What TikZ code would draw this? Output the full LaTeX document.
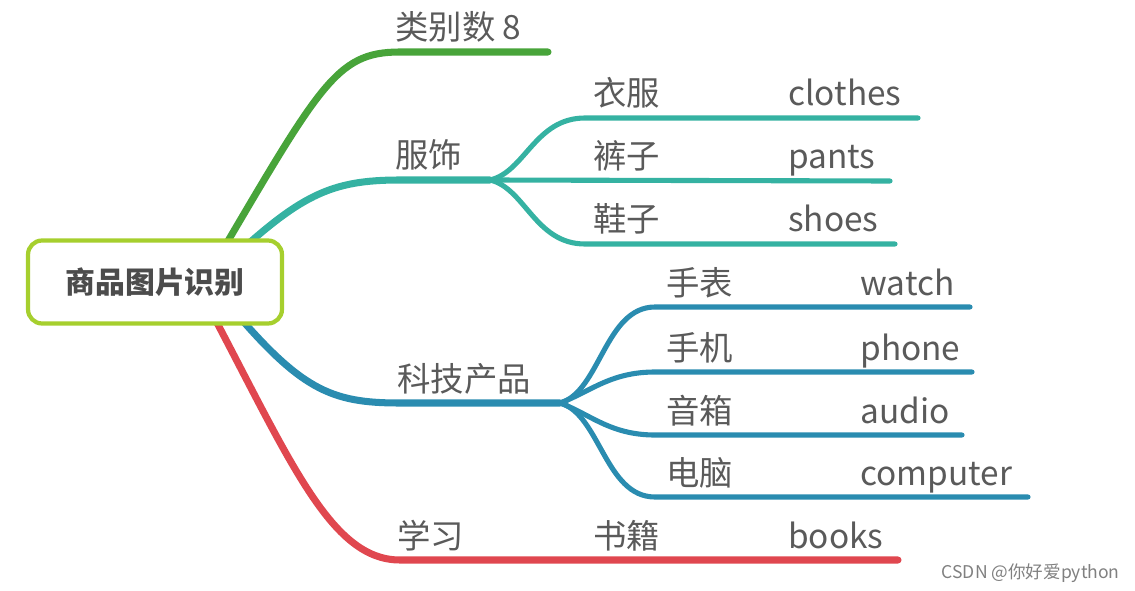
\documentclass[tikz,border=0pt]{standalone}
\usepackage{fontspec}
\setmainfont{Noto Sans CJK SC}
\usepackage{tikz}
\usetikzlibrary{positioning}

\definecolor{brgreen}{HTML}{48A43A}
\definecolor{brteal}{HTML}{35B2A2}
\definecolor{brblue}{HTML}{2A8CB0}
\definecolor{brred}{HTML}{E0474F}
\definecolor{rootrim}{HTML}{A6CF2E}
\definecolor{labgray}{HTML}{5A5A5A}

\begin{document}
\begin{tikzpicture}[
  x=0.02cm, y=-0.02cm,
  every node/.style={font=\fontsize{19}{22}\selectfont, text=labgray, inner sep=0pt},
  lab/.style={anchor=base west},
  rootbox/.style={draw=rootrim, line width=2.4pt, rounded corners=8pt, fill=white,
                  minimum width=5.08cm, minimum height=1.66cm,
                  font=\fontsize{17}{20}\selectfont\bfseries, text=black!70},
  mainbr/.style={line width=4pt, line cap=round},
  subbr/.style={line width=2.9pt, line cap=round}
]
\useasboundingbox (0,0) rectangle (1135,591);

%% --- Fork points and line ends -------------------------------
\coordinate (fs)   at (490,180);
\coordinate (kj)   at (560,403);
\coordinate (e-lb) at (548,52);
\coordinate (e-yf) at (918,118);
\coordinate (e-kz) at (890,181);
\coordinate (e-xz) at (895,244);
\coordinate (e-sb) at (970,307);
\coordinate (e-sj) at (972,372);
\coordinate (e-yx) at (962,435);
\coordinate (e-dn) at (1028,497);
\coordinate (e-xx) at (898,560);

%% --- Main branches -------------------------------------------
\draw[mainbr, brgreen] (205,280) .. controls (320,85) and (335,52) .. (400,52) -- (e-lb);
\draw[mainbr, brteal]  (225,265) .. controls (300,195) and (330,180) .. (400,180) -- (fs);
\draw[mainbr, brblue]  (225,300) .. controls (300,390) and (330,403) .. (400,403) -- (kj);
\draw[mainbr, brred]   (205,300) .. controls (290,460) and (330,560) .. (400,560) -- (e-xx);

%% --- Sub branches: clothing ----------------------------------
\draw[subbr, brteal] (fs) .. controls (525,172) and (535,118) .. (585,118) -- (e-yf);
\draw[subbr, brteal] (fs) -- (e-kz);
\draw[subbr, brteal] (fs) .. controls (525,188) and (535,244) .. (585,244) -- (e-xz);

%% --- Sub branches: electronics -------------------------------
\draw[subbr, brblue] (kj) .. controls (600,392) and (605,307) .. (655,307) -- (e-sb);
\draw[subbr, brblue] (kj) .. controls (590,392) and (610,372) .. (655,372) -- (e-sj);
\draw[subbr, brblue] (kj) .. controls (590,414) and (610,435) .. (655,435) -- (e-yx);
\draw[subbr, brblue] (kj) .. controls (600,414) and (605,497) .. (655,497) -- (e-dn);

%% --- Root ----------------------------------------------------
\node[rootbox] (root) at (155,282) {商品图片识别};

%% --- Labels --------------------------------------------------
\node[lab] (lb) at (395,40)  {类别数 8};
\node[lab] (fsl) at (395,168) {服饰};
\node[lab] (yf) at (593,106) {衣服};
\node[lab] (yfe) at (788,106) {clothes};
\node[lab] (kz) at (593,169) {裤子};
\node[lab] (kze) at (788,169) {pants};
\node[lab] (xz) at (593,232) {鞋子};
\node[lab] (xze) at (788,232) {shoes};

\node[lab] (kjl) at (397,391) {科技产品};
\node[lab] (sb) at (666,295) {手表};
\node[lab] (sbe) at (860,295) {watch};
\node[lab] (sj) at (666,360) {手机};
\node[lab] (sje) at (860,360) {phone};
\node[lab] (yx) at (666,423) {音箱};
\node[lab] (yxe) at (860,423) {audio};
\node[lab] (dn) at (666,485) {电脑};
\node[lab] (dne) at (860,485) {computer};

\node[lab] (xx) at (397,548) {学习};
\node[lab] (sjj) at (593,548) {书籍};
\node[lab] (sjje) at (788,548) {books};

%% --- Watermark -----------------------------------------------
\node[anchor=base east, font=\fontsize{10}{12}\selectfont, text=black!50] (wm) at (1120,578) {CSDN @你好爱python};

\end{tikzpicture}
\end{document}
